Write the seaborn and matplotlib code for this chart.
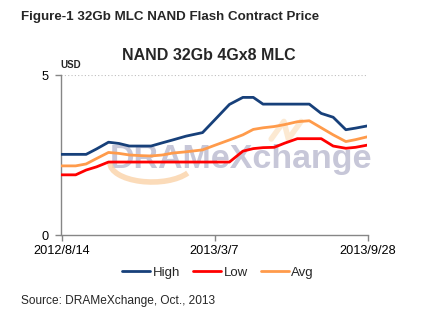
import matplotlib
matplotlib.use("Agg")
import matplotlib.pyplot as plt
from matplotlib.patches import Arc
import seaborn as sns
import pandas as pd

# ---- data ----
dates = ["2012-08-14", "2012-09-02", "2012-09-16", "2012-09-30", "2012-10-16",
         "2012-10-30", "2012-11-13", "2012-11-29", "2012-12-12", "2012-12-27",
         "2013-01-10", "2013-01-28", "2013-02-19", "2013-03-07", "2013-03-27",
         "2013-04-14", "2013-04-28", "2013-05-11", "2013-05-26", "2013-06-09",
         "2013-06-26", "2013-07-12", "2013-07-28", "2013-08-13", "2013-08-30",
         "2013-09-12", "2013-09-28"]
high = [2.52, 2.52, 2.52, 2.69, 2.90, 2.86, 2.78, 2.78, 2.78, 2.88, 2.97, 3.09,
        3.20, 3.59, 4.08, 4.30, 4.30, 4.09, 4.09, 4.09, 4.09, 4.09, 3.80, 3.68,
        3.29, 3.34, 3.41]
low = [1.88, 1.88, 2.03, 2.13, 2.28, 2.28, 2.28, 2.28, 2.28, 2.28, 2.28, 2.28,
       2.28, 2.28, 2.28, 2.62, 2.70, 2.73, 2.74, 2.87, 3.01, 3.01, 3.01, 2.78,
       2.71, 2.74, 2.81]
avg = [2.16, 2.16, 2.22, 2.39, 2.58, 2.55, 2.50, 2.48, 2.47, 2.50, 2.56, 2.60,
       2.66, 2.80, 2.97, 3.13, 3.30, 3.35, 3.39, 3.45, 3.54, 3.57, 3.35, 3.13,
       2.92, 2.98, 3.07]
series_names = ["High", "Low", "Avg"]
series_colors = ["#17407A", "#FF0000", "#FF9B4B"]
tick_dates = ["2012-08-14", "2013-03-07", "2013-09-28"]
tick_labels = ["2012/8/14", "2013/3/7", "2013/9/28"]
y_ticks = [0, 5]

fig_title = "Figure-1 32Gb MLC NAND Flash Contract Price"
chart_title = "NAND 32Gb 4Gx8 MLC"
unit_label = "USD"
source_text = "Source: DRAMeXchange, Oct., 2013"
watermark = "DRAMeXchange"

sns.set_theme(style="white")
plt.rcParams['font.family'] = ['Liberation Sans', 'DejaVu Sans']

df = pd.DataFrame({
    "Date": pd.to_datetime(dates * 3),
    "Price": high + low + avg,
    "Series": [s for s in series_names for _ in dates],
})

W, H = 421, 324
fig = plt.figure(figsize=(W / 100, H / 100), dpi=100)
ax = fig.add_axes([61.5 / W, 1 - 235 / H, (367.5 - 61.5) / W, 160 / H])

# watermark
ax.text(0.588, 0.42, watermark, transform=ax.transAxes, ha="center",
        va="baseline", fontsize=24.5, fontweight="bold", color="#BDBDD2",
        alpha=0.85, zorder=0)
arc = Arc((152 / W, 1 - 163 / H), 84 / W, 38 / H, theta1=180, theta2=340,
          transform=fig.transFigure, color="#FAD2A8", lw=4, alpha=0.8, zorder=0)
ax.add_patch(arc)
ax.plot(pd.to_datetime(["2013-05-22", "2013-06-08", "2013-06-14", "2013-07-01"]),
        [3.0, 3.55, 3.0, 3.55], color="#FBE0C0", lw=4, alpha=0.7, zorder=0)

sns.lineplot(data=df, x="Date", y="Price", hue="Series",
             palette=dict(zip(series_names, series_colors)),
             hue_order=series_names, linewidth=2, ax=ax, zorder=3)

ax.axhline(5, ls=(0, (1, 2)), color="#BFBFBF", lw=0.8, zorder=1)
ax.set_ylim(0, 5)
ax.set_xlim(pd.Timestamp(tick_dates[0]), pd.Timestamp(tick_dates[-1]))
ax.set_yticks(y_ticks)
ax.set_xticks(pd.to_datetime(tick_dates))
ax.set_xticklabels(tick_labels)
ax.set_xlabel("")
ax.set_ylabel("")
for s in ["top", "right"]:
    ax.spines[s].set_visible(False)
for s in ["left", "bottom"]:
    ax.spines[s].set_color("#868686")
    ax.spines[s].set_linewidth(1)
ax.tick_params(axis="both", which="major", length=4, width=1, color="#868686",
               labelsize=9.2, labelcolor="black", direction="out", pad=3)
ax.tick_params(axis="x", bottom=True, pad=3)
ax.tick_params(axis="y", left=True, pad=5)

handles, labels = ax.get_legend_handles_labels()
ax.legend(handles, labels, loc="center", bbox_to_anchor=(0.518, 1 - 272.7 / H),
          bbox_transform=fig.transFigure, ncol=3, frameon=False, fontsize=9.5,
          handlelength=2.1, handletextpad=0.2, columnspacing=1.0)

fig.text(21 / W, 1 - 17 / H, fig_title, fontsize=9.6, fontweight="bold",
         va="center", ha="left")
fig.text(209 / W, 1 - 56 / H, chart_title, fontsize=11.5, fontweight="bold",
         va="center", ha="center")
fig.text(60 / W, 1 - 65 / H, unit_label, fontsize=7, fontweight="bold",
         va="center", ha="left")
fig.text(21 / W, 1 - 301 / H, source_text, fontsize=8.6, va="center", ha="left")

fig.savefig("out.png", dpi=100)
